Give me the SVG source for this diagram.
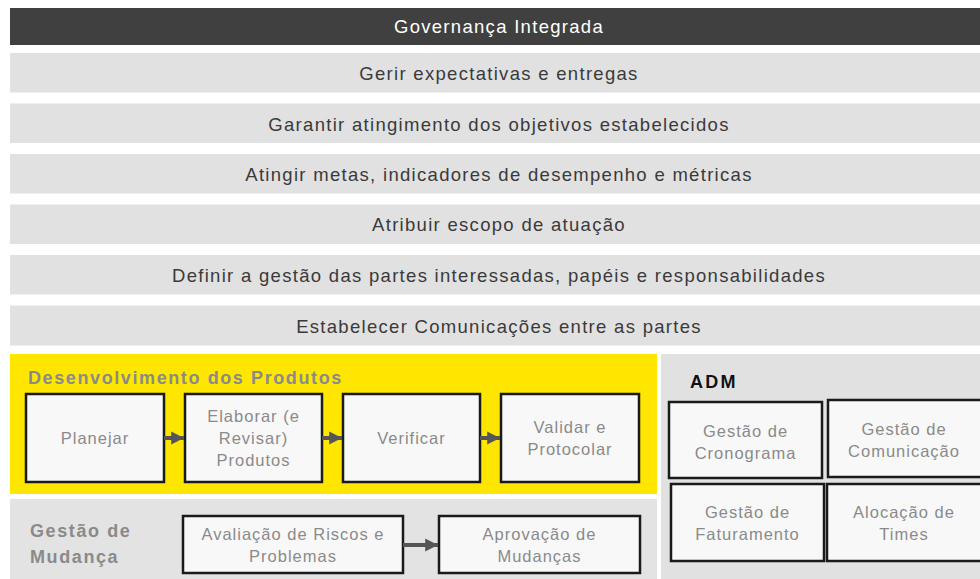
<svg xmlns="http://www.w3.org/2000/svg" width="980" height="579" viewBox="0 0 980 579">
<defs>
<marker id="ah" viewBox="0 0 10 10" refX="10" refY="5" markerWidth="3.2" markerHeight="3.6" orient="auto" markerUnits="strokeWidth"><path d="M0,0 L10,5 L0,10 Z" fill="#555555"/></marker>
</defs>
<style>
text{font-family:"Liberation Sans",Arial,sans-serif;}
.bar{fill:#e1e1e1;}
.bt{font-size:18.5px;fill:#3a3a3a;text-anchor:middle;letter-spacing:1.3px;}
.box{fill:#f8f8f8;stroke:#1a1a1a;stroke-width:2.5;}
.nt{font-size:16.5px;fill:#8a8a8a;text-anchor:middle;letter-spacing:1px;}
.hd{font-size:18px;font-weight:bold;fill:#8a8a8a;letter-spacing:1.6px;}
.conn{stroke:#555555;stroke-width:4;fill:none;marker-end:url(#ah);}
</style>
<rect width="980" height="579" fill="#ffffff"/>
<g id="governanca">
<rect x="10" y="8" width="980" height="37" fill="#404040"/>
<text x="499" y="33" class="bt" style="fill:#ffffff">Governança Integrada</text>
</g>
<g id="bar1"><rect class="bar" x="10" y="53" width="980" height="39.5"/><text class="bt" x="499" y="80">Gerir expectativas e entregas</text></g>
<g id="bar2"><rect class="bar" x="10" y="103.5" width="980" height="39.5"/><text class="bt" x="499" y="131">Garantir atingimento dos objetivos estabelecidos</text></g>
<g id="bar3"><rect class="bar" x="10" y="154" width="980" height="39.5"/><text class="bt" x="499" y="181">Atingir metas, indicadores de desempenho e métricas</text></g>
<g id="bar4"><rect class="bar" x="10" y="204.5" width="980" height="39.5"/><text class="bt" x="499" y="231">Atribuir escopo de atuação</text></g>
<g id="bar5"><rect class="bar" x="10" y="255" width="980" height="39.5"/><text class="bt" x="499" y="282">Definir a gestão das partes interessadas, papéis e responsabilidades</text></g>
<g id="bar6"><rect class="bar" x="10" y="305.5" width="980" height="40"/><text class="bt" x="499" y="333">Estabelecer Comunicações entre as partes</text></g>

<g id="desenvolvimento">
<rect x="10" y="354" width="647" height="140" fill="#ffe600"/>
<text class="hd" x="28" y="384">Desenvolvimento dos Produtos</text>
</g>
<g id="gestao-mudanca">
<rect x="10" y="499" width="647" height="80" fill="#e3e3e3"/>
<text class="hd" x="30" y="537">Gestão de</text>
<text class="hd" x="30" y="563">Mudança</text>
</g>
<g id="adm">
<rect x="661" y="354" width="319" height="225" fill="#e1e1e1"/>
<text x="690" y="388" style="font-size:18px;font-weight:bold;fill:#111111;letter-spacing:2.2px">ADM</text>
</g>

<g id="planejar"><rect class="box" x="26" y="394" width="138" height="88"/><text class="nt" x="95" y="444">Planejar</text></g>
<g id="elaborar"><rect class="box" x="185" y="394" width="137" height="88"/><text class="nt" x="253.5" y="422">Elaborar (e</text><text class="nt" x="253.5" y="444">Revisar)</text><text class="nt" x="253.5" y="466">Produtos</text></g>
<g id="verificar"><rect class="box" x="343" y="394" width="137" height="88"/><text class="nt" x="411.5" y="444">Verificar</text></g>
<g id="validar"><rect class="box" x="501" y="394" width="138" height="88"/><text class="nt" x="570" y="433">Validar e</text><text class="nt" x="570" y="455">Protocolar</text></g>

<g id="avaliacao"><rect class="box" x="183" y="516" width="220" height="57"/><text class="nt" x="293" y="540">Avaliação de Riscos e</text><text class="nt" x="293" y="562">Problemas</text></g>
<g id="aprovacao"><rect class="box" x="439" y="516" width="201" height="57"/><text class="nt" x="539.5" y="540">Aprovação de</text><text class="nt" x="539.5" y="562">Mudanças</text></g>

<g id="cronograma"><rect class="box" x="669" y="402" width="153" height="76"/><text class="nt" x="745.5" y="437">Gestão de</text><text class="nt" x="745.5" y="459">Cronograma</text></g>
<g id="comunicacao"><rect class="box" x="828" y="400" width="154" height="77"/><text class="nt" x="904" y="435">Gestão de</text><text class="nt" x="904" y="457">Comunicação</text></g>
<g id="faturamento"><rect class="box" x="671" y="484" width="153" height="77"/><text class="nt" x="747.5" y="518">Gestão de</text><text class="nt" x="747.5" y="540">Faturamento</text></g>
<g id="times"><rect class="box" x="827" y="484" width="155" height="77"/><text class="nt" x="904" y="518">Alocação de</text><text class="nt" x="904" y="540">Times</text></g>

<g id="connectors">
<line class="conn" x1="164" y1="438" x2="184" y2="438"/>
<line class="conn" x1="322" y1="438" x2="342" y2="438"/>
<line class="conn" x1="480" y1="438" x2="500" y2="438"/>
<line class="conn" x1="403" y1="545" x2="438" y2="545"/>
</g>
</svg>
